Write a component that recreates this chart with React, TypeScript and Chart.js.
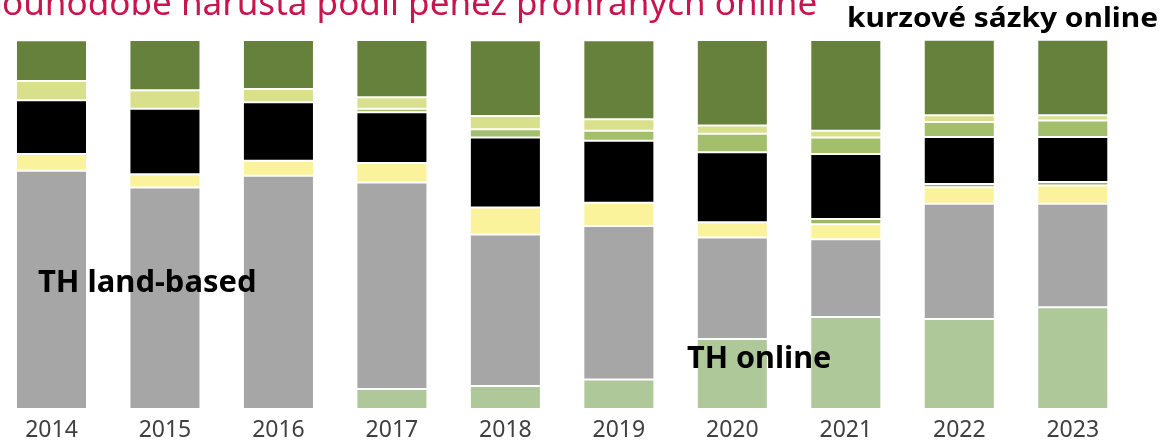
import React, { useEffect, useRef } from "react";
import { Chart, registerables } from "chart.js";

Chart.register(...registerables);

const years = ["2014", "2015", "2016", "2017", "2018", "2019", "2020", "2021", "2022", "2023"];
const thOnline = [0, 0, 0, 5.4, 6.2, 8.0, 19.0, 24.9, 24.4, 27.6];
const thLandBased = [64.6, 60.0, 63.2, 56.0, 41.1, 41.6, 27.5, 21.1, 31.2, 28.0];
const loterieLand = [4.5, 3.6, 4.1, 5.3, 7.3, 6.3, 4.1, 4.1, 4.5, 5.0];
const ostatniOnline = [0, 0, 0, 0, 0, 0, 0, 1.4, 0.9, 0.9];
const kurzoveLand = [14.6, 17.8, 15.8, 13.7, 19.0, 16.8, 19.0, 17.6, 12.7, 12.2];
const loterieOnline = [0, 0, 0, 1.0, 2.2, 2.7, 5.0, 4.5, 4.1, 4.5];
const ostatniLand = [5.2, 5.0, 3.6, 3.1, 3.6, 3.1, 2.2, 1.8, 1.8, 1.4];
const kurzoveOnline = [11.0, 13.6, 13.3, 15.5, 20.5, 21.4, 23.2, 24.6, 20.5, 20.5];

const titlePrefix = "Dl";
const titleText = "ouhodobě narůstá podíl peněz prohraných online";
const labelKurzove = "kurzové sázky online";
const labelLand = "TH land-based";
const labelOnline = "TH online";

const SHIFT = 20;
const FONT = '"Noto Sans", "Open Sans", sans-serif';

function drawFit(
  ctx: CanvasRenderingContext2D,
  text: string,
  weight: string,
  color: string,
  inkLeft: number,
  baseline: number,
  inkWidth: number,
  ascent?: number
) {
  ctx.save();
  ctx.font = `${weight} 100px ${FONT}`;
  const m = ctx.measureText(text);
  const w100 = m.actualBoundingBoxLeft + m.actualBoundingBoxRight;
  const size = (100 * inkWidth) / w100;
  ctx.font = `${weight} ${size}px ${FONT}`;
  const m2 = ctx.measureText(text);
  let sy = 1;
  if (ascent && m2.actualBoundingBoxAscent > 0) sy = ascent / m2.actualBoundingBoxAscent;
  ctx.fillStyle = color;
  ctx.textBaseline = "alphabetic";
  ctx.textAlign = "left";
  ctx.translate(inkLeft + m2.actualBoundingBoxLeft, baseline);
  ctx.scale(1, sy);
  ctx.fillText(text, 0, 0);
  ctx.restore();
  return size;
}

const textPlugin = {
  id: "overlayTexts",
  afterDraw(chart: any) {
    const ctx: CanvasRenderingContext2D = chart.ctx;
    const size = drawFit(ctx, titleText, "400", "#C8154E", 3 + SHIFT, 15, 812);
    ctx.save();
    ctx.font = `400 ${size}px ${FONT}`;
    ctx.fillStyle = "#C8154E";
    ctx.textAlign = "right";
    ctx.textBaseline = "alphabetic";
    ctx.fillText(titlePrefix, 3 + SHIFT, 15);
    ctx.restore();
    drawFit(ctx, labelKurzove, "700", "#000000", 849 + SHIFT, 27, 308, 20.5);
    drawFit(ctx, labelLand, "700", "#000000", 38 + SHIFT, 291.7, 216, 23);
    drawFit(ctx, labelOnline, "700", "#000000", 687 + SHIFT, 367.7, 143, 23);
  },
};

export default function App() {
  const ref = useRef<HTMLCanvasElement | null>(null);

  useEffect(() => {
    document.body.style.margin = "0";
    if (!ref.current) return;
    const border = "rgba(255,255,255,0.4)";
    const mk = (label: string, data: number[], color: string) => ({
      label,
      data,
      backgroundColor: color,
      borderColor: border,
      borderWidth: 1,
      borderSkipped: false as const,
      barPercentage: 0.626,
      categoryPercentage: 1,
    });
    const chart = new Chart(ref.current, {
      type: "bar",
      data: {
        labels: years,
        datasets: [
          mk("TH online", thOnline, "#AFC899"),
          mk("TH land-based", thLandBased, "#A6A6A6"),
          mk("loterie land-based", loterieLand, "#FAF39C"),
          mk("ostatní online", ostatniOnline, "#9DB865"),
          mk("kurzové sázky land-based", kurzoveLand, "#000000"),
          mk("loterie online", loterieOnline, "#A3BF6B"),
          mk("ostatní land-based", ostatniLand, "#D8E08C"),
          mk("kurzové sázky online", kurzoveOnline, "#66813B"),
        ],
      },
      options: {
        animation: false,
        responsive: false,
        devicePixelRatio: 1,
        layout: { padding: { left: 14.75, right: 40.5, top: 40, bottom: 0 } },
        plugins: { legend: { display: false }, tooltip: { enabled: false }, title: { display: false } },
        scales: {
          x: {
            stacked: true,
            grid: { display: false, drawTicks: false },
            border: { display: false },
            ticks: { color: "#404040", font: { family: FONT, size: 23 }, padding: 8 },
            afterFit: (axis: any) => {
              axis.height = 31;
            },
          },
          y: {
            stacked: true,
            display: false,
            min: 0,
            max: 100,
          },
        },
      },
      plugins: [textPlugin],
    });
    return () => chart.destroy();
  }, []);

  return (
    <div style={{ position: "relative", width: 1163, height: 440, overflow: "hidden", background: "#fff" }}>
      <canvas ref={ref} width={1190} height={440} style={{ position: "absolute", left: -SHIFT, top: 0 }} />
    </div>
  );
}
